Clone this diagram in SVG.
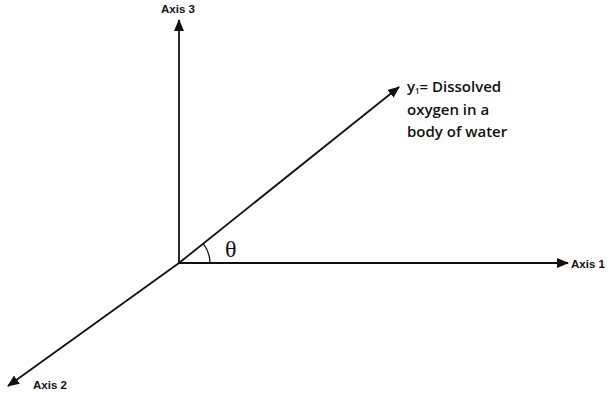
<svg xmlns="http://www.w3.org/2000/svg" width="609" height="393" viewBox="0 0 609 393">
<defs>
<marker id="ah" viewBox="0 0 12 10" refX="11" refY="5" markerWidth="12" markerHeight="10" markerUnits="userSpaceOnUse" orient="auto">
<path d="M0,0 L12,5 L0,10 Z" fill="#111"/>
</marker>
</defs>
<style>
.ax{stroke:#111;stroke-width:1.8;fill:none;marker-end:url(#ah)}
.lbl{font-family:"Liberation Sans",Arial,sans-serif;font-weight:bold;font-size:11.5px;fill:#111}
.y1{font-family:"Open Sans","Liberation Sans",sans-serif;font-weight:600;font-size:15px;fill:#111}
</style>
<rect width="609" height="393" fill="#fff"/>
<g id="connectors">
<line class="ax" x1="179" y1="263" x2="179" y2="20"/>
<line class="ax" x1="179" y1="263" x2="568" y2="263"/>
<line class="ax" x1="179" y1="263" x2="8" y2="386"/>
<line class="ax" x1="179" y1="263" x2="399" y2="87"/>
<path d="M210,263 A31,31 0 0 0 203.2,243.7" stroke="#111" stroke-width="1.3" fill="none"/>
</g>
<g id="axis3"><text class="lbl" x="178" y="13" text-anchor="middle">Axis 3</text></g>
<g id="axis1"><text class="lbl" x="571" y="268">Axis 1</text></g>
<g id="axis2"><text class="lbl" x="33" y="389">Axis 2</text></g>
<g id="y1">
<text class="y1" x="407" y="92">y<tspan font-size="8" dy="2">1</tspan><tspan dy="-2">= Dissolved</tspan></text>
<text class="y1" x="407" y="115">oxygen in a</text>
<text class="y1" x="407" y="137">body of water</text>
</g>
<g id="theta"><text x="225" y="257" font-family="'Liberation Serif','Times New Roman',serif" font-size="24" fill="#111">θ</text></g>
</svg>
